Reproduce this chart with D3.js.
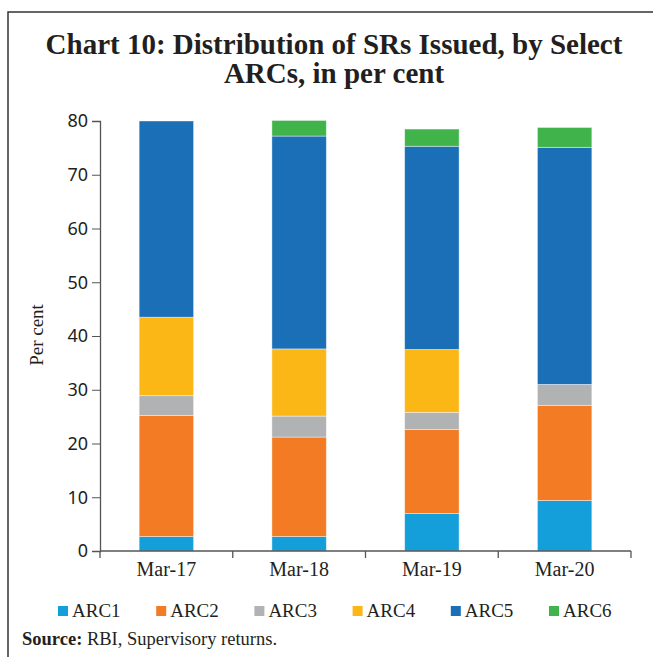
<!DOCTYPE html>
<html>
<head>
<meta charset="utf-8">
<script src="https://cdn.jsdelivr.net/npm/d3@7"></script>
<style>
  body { margin: 0; background: #fff; }
  svg { display: block; }
</style>
</head>
<body>
<svg id="chart" width="653" height="657"></svg>
<script>
const periods = ["Mar-17", "Mar-18", "Mar-19", "Mar-20"];
const arcNames = ["ARC1", "ARC2", "ARC3", "ARC4", "ARC5", "ARC6"];
const arc1 = [2.7, 2.7, 7.0, 9.4];
const arc2 = [22.5, 18.5, 15.6, 17.7];
const arc3 = [3.7, 3.9, 3.2, 3.9];
const arc4 = [14.6, 12.5, 11.7, 0];
const arc5 = [36.5, 39.6, 37.8, 44.1];
const arc6 = [0, 2.9, 3.2, 3.7];
const yTicks = [0, 10, 20, 30, 40, 50, 60, 70, 80];
const colors = ["#159fda", "#f27b24", "#b1b2b4", "#fbb716", "#1a6fb7", "#40b44b"];

const series = [arc1, arc2, arc3, arc4, arc5, arc6];
const table = periods.map((p, i) => {
    const row = { period: p };
    arcNames.forEach((k, j) => (row[k] = series[j][i]));
    return row;
});

const svg = d3.select("#chart");
const serif = "'Liberation Serif', 'DejaVu Serif', serif";
const sans = "'Noto Sans', 'Open Sans', sans-serif";

// frame lines (top and left)
svg.append("path")
    .attr("d", "M8,657 V12 H653")
    .attr("fill", "none")
    .attr("stroke", "#333")
    .attr("stroke-width", 1.5);

// title
const title = svg.append("text")
    .attr("text-anchor", "middle")
    .attr("font-family", serif)
    .attr("font-weight", "bold")
    .attr("font-size", 29)
    .attr("fill", "#231f20");
title.append("tspan").attr("x", 334).attr("y", 54).text("Chart 10: Distribution of SRs Issued, by Select");
title.append("tspan").attr("x", 334).attr("y", 83).text("ARCs, in per cent");

const x = d3.scaleBand().domain(periods).range([100, 631]).paddingInner(0.59).paddingOuter(0.295);
const y = d3.scaleLinear().domain([0, 80]).range([551, 121]);

const stack = d3.stack().keys(arcNames)(table);

svg.append("g")
    .selectAll("g")
    .data(stack)
    .enter()
    .append("g")
    .attr("fill", (d, i) => colors[i])
    .selectAll("rect")
    .data((d) => d.filter((s) => s[1] - s[0] > 0))
    .enter()
    .append("rect")
    .attr("x", (d) => x(d.data.period))
    .attr("width", x.bandwidth())
    .attr("y", (d) => y(d[1]))
    .attr("height", (d) => y(d[0]) - y(d[1]))
    .attr("stroke", "#fff")
    .attr("stroke-opacity", 0.5)
    .attr("stroke-width", 0.8);

// y axis
const yAxis = svg.append("g")
    .attr("transform", "translate(100,0)")
    .call(d3.axisLeft(y).tickValues(yTicks).tickSize(8).tickPadding(4));
yAxis.select(".domain").attr("stroke", "#555").attr("stroke-width", 1.3);
yAxis.selectAll(".tick line").attr("stroke", "#555");
yAxis.selectAll("text")
    .attr("font-family", sans)
    .attr("font-size", 18)
    .attr("fill", "#231f20");

// x axis with ticks at band edges
const xAxis = svg.append("g").attr("transform", "translate(0,551)");
xAxis.append("line")
    .attr("x1", 100).attr("x2", 631)
    .attr("stroke", "#555").attr("stroke-width", 1.3);
const edges = [100].concat(periods.map((p) => x(p) - x.step() * x.paddingInner() / 2 + x.step()));
xAxis.selectAll(".edge")
    .data(edges)
    .enter()
    .append("line")
    .attr("x1", (d) => d).attr("x2", (d) => d)
    .attr("y1", 0).attr("y2", 7)
    .attr("stroke", "#555").attr("stroke-width", 1.3);
xAxis.selectAll(".lbl")
    .data(periods)
    .enter()
    .append("text")
    .attr("x", (d) => x(d) + x.bandwidth() / 2)
    .attr("y", 25)
    .attr("text-anchor", "middle")
    .attr("font-family", serif)
    .attr("font-size", 20)
    .attr("fill", "#231f20")
    .text((d) => d);

// y axis title
svg.append("text")
    .attr("transform", "translate(43,335) rotate(-90)")
    .attr("text-anchor", "middle")
    .attr("font-family", serif)
    .attr("font-size", 19)
    .attr("fill", "#231f20")
    .text("Per cent");

// legend
const legend = svg.append("g")
    .selectAll("g")
    .data(arcNames)
    .enter()
    .append("g")
    .attr("transform", (d, i) => `translate(${58 + i * 98.2},0)`);
legend.append("rect")
    .attr("x", 0).attr("y", 606)
    .attr("width", 10).attr("height", 10)
    .attr("fill", (d, i) => colors[i]);
legend.append("text")
    .attr("x", 14).attr("y", 617)
    .attr("font-family", serif)
    .attr("font-size", 19)
    .attr("fill", "#231f20")
    .text((d) => d);

// source
const src = svg.append("text")
    .attr("x", 22).attr("y", 645)
    .attr("font-family", serif)
    .attr("font-size", 18.5)
    .attr("fill", "#231f20");
src.append("tspan").attr("font-weight", "bold").text("Source:");
src.append("tspan").text(" RBI, Supervisory returns.");
</script>
</body>
</html>
